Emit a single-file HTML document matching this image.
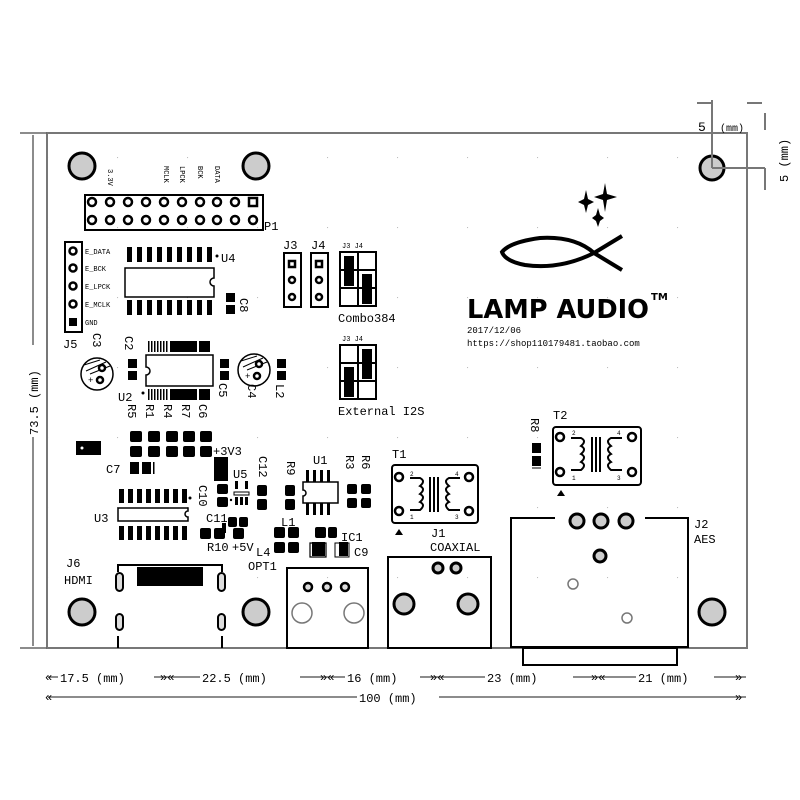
<!DOCTYPE html>
<html><head><meta charset="utf-8"><style>
html,body{margin:0;padding:0;background:#fff}
svg{display:block}
text{font-family:"Liberation Mono","DejaVu Sans Mono",monospace;fill:#000}
text.logo{font-family:"DejaVu Sans","Liberation Sans",sans-serif;font-weight:bold}
</style></head><body>
<svg width="800" height="800" viewBox="0 0 800 800" xmlns="http://www.w3.org/2000/svg">
<defs>
<pattern id="dots" x="47" y="157" width="70" height="70" patternUnits="userSpaceOnUse"><circle cx="0" cy="0" r="1.2" fill="#bbb"/></pattern>
</defs>
<rect x="0" y="0" width="800" height="800" fill="#fff"/>
<!-- board -->
<rect x="47" y="133" width="700" height="515" fill="url(#dots)" stroke="#777" stroke-width="2"/>

<!-- mounting holes -->
<g fill="#ccc" stroke="#000" stroke-width="3">
<circle cx="82" cy="166" r="13"/><circle cx="256" cy="166" r="13"/><circle cx="712" cy="168" r="12"/>
<circle cx="82" cy="612" r="13"/><circle cx="256" cy="612" r="13"/><circle cx="712" cy="612" r="13"/>
</g>

<!-- top-right dimension -->
<g stroke="#777" stroke-width="2" fill="none">
<line x1="712" y1="100" x2="712" y2="168"/><line x1="712" y1="168" x2="765" y2="168"/>
<line x1="697" y1="103" x2="712" y2="103"/><line x1="747" y1="103" x2="762" y2="103"/>
<line x1="765" y1="113" x2="765" y2="130"/><line x1="765" y1="168" x2="765" y2="190"/>
</g>
<text x="698" y="131" font-size="13" fill="#666">5</text><text x="720" y="131" font-size="10" fill="#666">(mm)</text>
<text x="0" y="0" font-size="12" fill="#666" transform="translate(788,182) rotate(-90)">5 (mm)</text>

<!-- left dimension -->
<g stroke="#666" stroke-width="1.5"><line x1="33" y1="135" x2="33" y2="646"/><line x1="20" y1="133" x2="47" y2="133"/><line x1="20" y1="648" x2="47" y2="648"/></g>
<rect x="26" y="345" width="14" height="92" fill="#fff"/>
<text font-size="12" fill="#666" transform="translate(38,435) rotate(-90)">73.5 (mm)</text>

<!-- bottom dimensions -->
<g stroke="#666" stroke-width="1.5">
<line x1="48" y1="677" x2="746" y2="677"/><line x1="48" y1="697" x2="746" y2="697"/>
</g>
<g fill="#fff">
<rect x="58" y="669" width="96" height="14"/><rect x="200" y="669" width="100" height="14"/><rect x="345" y="669" width="75" height="14"/><rect x="485" y="669" width="88" height="14"/><rect x="636" y="669" width="78" height="14"/><rect x="357" y="689" width="82" height="14"/>
</g>
<g font-size="12" fill="#666">
<text x="60" y="682" fill="#666">17.5 (mm)</text><text x="202" y="682" fill="#666">22.5 (mm)</text><text x="347" y="682" fill="#666">16 (mm)</text><text x="487" y="682" fill="#666">23 (mm)</text><text x="638" y="682" fill="#666">21 (mm)</text><text x="359" y="702" fill="#666">100 (mm)</text>
</g>
<g fill="#666" font-size="12"><text x="45" y="681" fill="#666">«</text><text x="160" y="681" fill="#666">»«</text><text x="320" y="681" fill="#666">»«</text><text x="430" y="681" fill="#666">»«</text><text x="591" y="681" fill="#666">»«</text><text x="735" y="681" fill="#666">»</text><text x="45" y="701" fill="#666">«</text><text x="735" y="701" fill="#666">»</text></g>

<!-- P1 -->
<rect x="85" y="195" width="178" height="35" fill="none" stroke="#000" stroke-width="2"/>
<g fill="#fff" stroke="#000" stroke-width="2.5">
<circle cx="92" cy="202" r="4"/><circle cx="110" cy="202" r="4"/><circle cx="128" cy="202" r="4"/><circle cx="146" cy="202" r="4"/><circle cx="164" cy="202" r="4"/><circle cx="182" cy="202" r="4"/><circle cx="200" cy="202" r="4"/><circle cx="217" cy="202" r="4"/><circle cx="235" cy="202" r="4"/><rect x="249" y="198" width="8" height="8"/>
<circle cx="92" cy="220" r="4"/><circle cx="110" cy="220" r="4"/><circle cx="128" cy="220" r="4"/><circle cx="146" cy="220" r="4"/><circle cx="164" cy="220" r="4"/><circle cx="182" cy="220" r="4"/><circle cx="200" cy="220" r="4"/><circle cx="217" cy="220" r="4"/><circle cx="235" cy="220" r="4"/><circle cx="253" cy="220" r="4"/>
</g>
<g font-size="7">
<text transform="translate(108,169) rotate(90)">3.3V</text><text transform="translate(164,166) rotate(90)">MCLK</text><text transform="translate(180,166) rotate(90)">LPCK</text><text transform="translate(198,166) rotate(90)">BCK</text><text transform="translate(215,166) rotate(90)">DATA</text>
</g>
<text x="264" y="230" font-size="12">P1</text>

<!-- J5 -->
<rect x="65" y="242" width="17" height="90" fill="none" stroke="#000" stroke-width="2"/>
<g fill="#fff" stroke="#000" stroke-width="2.5"><circle cx="73" cy="251" r="3.5"/><circle cx="73" cy="268" r="3.5"/><circle cx="73" cy="286" r="3.5"/><circle cx="73" cy="304" r="3.5"/></g>
<rect x="69" y="318" width="8" height="8" fill="#000"/>
<g font-size="7"><text x="85" y="254">E_DATA</text><text x="85" y="271">E_BCK</text><text x="85" y="289">E_LPCK</text><text x="85" y="307">E_MCLK</text><text x="85" y="325">GND</text></g>
<text x="63" y="348" font-size="12">J5</text>

<!-- U4 -->
<g fill="#000">
<rect x="127" y="247" width="5" height="15"/><rect x="137" y="247" width="5" height="15"/><rect x="147" y="247" width="5" height="15"/><rect x="157" y="247" width="5" height="15"/><rect x="167" y="247" width="5" height="15"/><rect x="177" y="247" width="5" height="15"/><rect x="187" y="247" width="5" height="15"/><rect x="197" y="247" width="5" height="15"/><rect x="207" y="247" width="5" height="15"/>
<rect x="127" y="300" width="5" height="15"/><rect x="137" y="300" width="5" height="15"/><rect x="147" y="300" width="5" height="15"/><rect x="157" y="300" width="5" height="15"/><rect x="167" y="300" width="5" height="15"/><rect x="177" y="300" width="5" height="15"/><rect x="187" y="300" width="5" height="15"/><rect x="197" y="300" width="5" height="15"/><rect x="207" y="300" width="5" height="15"/>
<circle cx="217" cy="256" r="1.5"/>
</g>
<path d="M125 268 H214 V278 A4 4 0 0 0 214 286 V297 H125 Z" fill="#fff" stroke="#000" stroke-width="1.5"/>
<text x="221" y="262" font-size="12">U4</text>
<rect x="226" y="293" width="9" height="9" fill="#000"/><rect x="226" y="305" width="9" height="9" fill="#000"/>
<text font-size="12" transform="translate(240,298) rotate(90)">C8</text>

<!-- J3 J4 -->
<text x="283" y="249" font-size="12">J3</text><text x="311" y="249" font-size="12">J4</text>
<rect x="284" y="253" width="17" height="54" fill="none" stroke="#000" stroke-width="2"/>
<rect x="311" y="253" width="17" height="54" fill="none" stroke="#000" stroke-width="2"/>
<g fill="#fff" stroke="#000" stroke-width="2.5"><rect x="289" y="261" width="6" height="6"/><circle cx="292" cy="280" r="3"/><circle cx="292" cy="297" r="3"/><rect x="316" y="261" width="6" height="6"/><circle cx="319" cy="280" r="3"/><circle cx="319" cy="297" r="3"/></g>
<g fill="none" stroke="#000" stroke-width="2">
<rect x="340" y="252" width="36" height="54"/><line x1="358" y1="252" x2="358" y2="306"/><line x1="340" y1="270" x2="376" y2="270"/><line x1="340" y1="288" x2="376" y2="288"/>
<rect x="340" y="345" width="36" height="54"/><line x1="358" y1="345" x2="358" y2="399"/><line x1="340" y1="363" x2="376" y2="363"/><line x1="340" y1="381" x2="376" y2="381"/>
</g>
<g fill="#000"><rect x="344" y="256" width="10" height="30"/><rect x="362" y="274" width="10" height="30"/><rect x="362" y="349" width="10" height="30"/><rect x="344" y="367" width="10" height="30"/></g>
<g font-size="7"><text x="342" y="248">J3 J4</text><text x="342" y="341">J3 J4</text></g>
<text x="338" y="322" font-size="12">Combo384</text>
<text x="338" y="415" font-size="12">External I2S</text>

<!-- U2 area -->
<g fill="#fff" stroke="#000" stroke-width="1.5"><circle cx="97" cy="374" r="16"/><circle cx="254" cy="370" r="16"/></g>
<g fill="none" stroke="#000" stroke-width="1"><path d="M84 365 L100 360 M86 371 L106 362 M90 374 L110 366"/><path d="M241 361 L257 356 M243 367 L263 358 M247 370 L267 362"/></g>
<g fill="#fff" stroke="#000" stroke-width="2.5"><circle cx="102" cy="368" r="3"/><circle cx="100" cy="380" r="3"/><circle cx="259" cy="364" r="3"/><circle cx="257" cy="376" r="3"/></g>
<g font-size="9"><text x="88" y="383">+</text><text x="245" y="379">+</text></g>
<g fill="#000">
<rect x="128" y="359" width="9" height="9"/><rect x="128" y="371" width="9" height="9"/>
<rect x="220" y="359" width="9" height="9"/><rect x="220" y="371" width="9" height="9"/>
<rect x="277" y="359" width="9" height="9"/><rect x="277" y="371" width="9" height="9"/>
<rect x="148" y="341" width="1.5" height="11"/><rect x="151" y="341" width="1.5" height="11"/><rect x="154" y="341" width="1.5" height="11"/><rect x="157" y="341" width="1.5" height="11"/><rect x="160" y="341" width="1.5" height="11"/><rect x="163" y="341" width="1.5" height="11"/><rect x="166" y="341" width="1.5" height="11"/>
<rect x="170" y="341" width="27" height="11"/><rect x="199" y="341" width="11" height="11"/>
<rect x="148" y="389" width="1.5" height="11"/><rect x="151" y="389" width="1.5" height="11"/><rect x="154" y="389" width="1.5" height="11"/><rect x="157" y="389" width="1.5" height="11"/><rect x="160" y="389" width="1.5" height="11"/><rect x="163" y="389" width="1.5" height="11"/><rect x="166" y="389" width="1.5" height="11"/>
<rect x="170" y="389" width="27" height="11"/><rect x="199" y="389" width="11" height="11"/>
<circle cx="143" cy="393" r="1.5"/>
</g>
<path d="M146 355 H213 V386 H146 V375 A4 4 0 0 0 146 367 Z" fill="#fff" stroke="#000" stroke-width="1.5"/>
<text x="118" y="401" font-size="12">U2</text>
<g font-size="12">
<text transform="translate(93,333) rotate(90)">C3</text><text transform="translate(125,336) rotate(90)">C2</text>
<text transform="translate(219,383) rotate(90)">C5</text><text transform="translate(248,384) rotate(90)">C4</text><text transform="translate(276,384) rotate(90)">L2</text>
<text transform="translate(128,404) rotate(90)">R5</text><text transform="translate(146,404) rotate(90)">R1</text><text transform="translate(164,404) rotate(90)">R4</text><text transform="translate(182,404) rotate(90)">R7</text><text transform="translate(199,404) rotate(90)">C6</text>
</g>
<g fill="#000">
<rect x="130" y="431" width="12" height="11" rx="2"/><rect x="148" y="431" width="12" height="11" rx="2"/><rect x="166" y="431" width="12" height="11" rx="2"/><rect x="183" y="431" width="12" height="11" rx="2"/><rect x="200" y="431" width="12" height="11" rx="2"/>
<rect x="130" y="446" width="12" height="11" rx="2"/><rect x="148" y="446" width="12" height="11" rx="2"/><rect x="166" y="446" width="12" height="11" rx="2"/><rect x="183" y="446" width="12" height="11" rx="2"/><rect x="200" y="446" width="12" height="11" rx="2"/>
<rect x="76" y="441" width="25" height="14"/>
<rect x="130" y="462" width="9" height="12"/><rect x="142" y="462" width="9" height="12"/><rect x="153" y="462" width="1.5" height="12"/>
</g>
<circle cx="82" cy="448" r="1.5" fill="#fff"/>
<text x="213" y="455" font-size="12">+3V3</text>
<text x="106" y="473" font-size="12">C7</text>

<!-- U3 -->
<g fill="#000">
<rect x="119" y="489" width="5" height="14"/><rect x="128" y="489" width="5" height="14"/><rect x="137" y="489" width="5" height="14"/><rect x="146" y="489" width="5" height="14"/><rect x="155" y="489" width="5" height="14"/><rect x="164" y="489" width="5" height="14"/><rect x="173" y="489" width="5" height="14"/><rect x="182" y="489" width="5" height="14"/>
<rect x="119" y="526" width="5" height="14"/><rect x="128" y="526" width="5" height="14"/><rect x="137" y="526" width="5" height="14"/><rect x="146" y="526" width="5" height="14"/><rect x="155" y="526" width="5" height="14"/><rect x="164" y="526" width="5" height="14"/><rect x="173" y="526" width="5" height="14"/><rect x="182" y="526" width="5" height="14"/>
<circle cx="190" cy="498" r="1.5"/>
</g>
<path d="M118 508 H188 V511 A3 3 0 0 0 188 517 V521 H118 Z" fill="#fff" stroke="#000" stroke-width="1.5"/>
<text x="94" y="522" font-size="12">U3</text>

<!-- U5 region -->
<g fill="#000">
<rect x="214" y="457" width="14" height="24"/>
<rect x="217" y="484" width="11" height="10" rx="2"/><rect x="217" y="497" width="11" height="10" rx="2"/>
<rect x="235" y="481" width="3" height="8"/><rect x="245" y="481" width="3" height="8"/>
<rect x="235" y="497" width="3" height="8"/><rect x="240" y="497" width="3" height="8"/><rect x="245" y="497" width="3" height="8"/>
<rect x="222" y="523" width="4" height="10"/><rect x="228" y="517" width="9" height="10" rx="2"/><rect x="239" y="517" width="9" height="10" rx="2"/>
<rect x="200" y="528" width="11" height="11" rx="2"/><rect x="214" y="528" width="11" height="11" rx="2"/><rect x="233" y="528" width="11" height="11" rx="2"/>
<rect x="257" y="485" width="10" height="11" rx="2"/><rect x="257" y="499" width="10" height="11" rx="2"/>
<rect x="285" y="485" width="10" height="11" rx="2"/><rect x="285" y="499" width="10" height="11" rx="2"/>
<rect x="274" y="527" width="11" height="11" rx="2"/><rect x="288" y="527" width="11" height="11" rx="2"/>
<rect x="274" y="542" width="11" height="11" rx="2"/><rect x="288" y="542" width="11" height="11" rx="2"/>
<rect x="315" y="527" width="11" height="11" rx="2"/><rect x="328" y="527" width="9" height="11" rx="2"/>
<rect x="347" y="484" width="10" height="10" rx="2"/><rect x="361" y="484" width="10" height="10" rx="2"/>
<rect x="347" y="498" width="10" height="10" rx="2"/><rect x="361" y="498" width="10" height="10" rx="2"/>
<circle cx="231" cy="500" r="1.2"/>
</g>
<rect x="234" y="492" width="15" height="3" fill="#fff" stroke="#000"/>
<path d="M312 550 V542 H325 V556 H312 Z" fill="#000"/><path d="M310 543 H326 V557 H310 Z" fill="none" stroke="#000" stroke-width="1.2"/>
<rect x="339" y="542" width="9" height="14" fill="#000"/><path d="M335 543 H349 V557 H335 Z" fill="none" stroke="#000"/>
<g fill="#000">
<rect x="306" y="470" width="3" height="12"/><rect x="313" y="470" width="3" height="12"/><rect x="320" y="470" width="3" height="12"/><rect x="327" y="470" width="3" height="12"/>
<rect x="306" y="503" width="3" height="12"/><rect x="313" y="503" width="3" height="12"/><rect x="320" y="503" width="3" height="12"/><rect x="327" y="503" width="3" height="12"/>
</g>
<path d="M303 482 H338 V503 H303 V496 A3 3 0 0 0 303 490 Z" fill="#fff" stroke="#000" stroke-width="1.5"/>
<g font-size="12">
<text x="233" y="478">U5</text><text x="313" y="464">U1</text><text x="207" y="551">R10</text><text x="232" y="551">+5V</text>
<text x="206" y="522">C11</text><text x="281" y="526">L1</text><text x="256" y="556">L4</text><text x="341" y="541">IC1</text><text x="354" y="556">C9</text><text x="248" y="570">OPT1</text>
<text transform="translate(259,456) rotate(90)">C12</text><text transform="translate(199,485) rotate(90)">C10</text>
<text transform="translate(287,461) rotate(90)">R9</text><text transform="translate(346,455) rotate(90)">R3</text><text transform="translate(362,455) rotate(90)">R6</text>
<text x="66" y="567">J6</text><text x="64" y="584">HDMI</text>
</g>

<!-- HDMI -->
<path d="M118 572 V565 H222 V572 M118 636 V648 M222 636 V648" fill="none" stroke="#000" stroke-width="2"/>
<rect x="137" y="567" width="66" height="19" fill="#000"/>
<g fill="#ddd" stroke="#000" stroke-width="2"><rect x="116" y="573" width="7" height="18" rx="3.5"/><rect x="218" y="573" width="7" height="18" rx="3.5"/><rect x="116" y="614" width="7" height="16" rx="3.5"/><rect x="218" y="614" width="7" height="16" rx="3.5"/></g>

<!-- OPT1 -->
<rect x="287" y="568" width="81" height="80" fill="none" stroke="#000" stroke-width="2"/>
<g fill="#ddd" stroke="#000" stroke-width="2.5"><circle cx="308" cy="587" r="4"/><circle cx="327" cy="587" r="4"/><circle cx="345" cy="587" r="4"/></g>
<g fill="#fff" stroke="#777" stroke-width="1.5"><circle cx="302" cy="613" r="10"/><circle cx="354" cy="613" r="10"/></g>

<!-- T1 -->
<g>
<rect x="392" y="465" width="86" height="58" rx="3" fill="#fff" stroke="#000" stroke-width="2"/>
<g fill="#fff" stroke="#000" stroke-width="2.5"><circle cx="399" cy="477" r="4"/><circle cx="469" cy="477" r="4"/><circle cx="399" cy="511" r="4"/><circle cx="469" cy="511" r="4"/></g>
<path d="M410 478 H420 Q426 481 420 486 Q426 489 420 494 Q426 497 420 502 Q426 505 420 510 H410 M460 478 H449 Q443 481 449 486 Q443 489 449 494 Q443 497 449 502 Q443 505 449 510 H460 M430 477 V512 M434 477 V512 M438 477 V512" fill="none" stroke="#000" stroke-width="2"/>
<g font-size="6"><text x="410" y="476">2</text><text x="455" y="476">4</text><text x="410" y="519">1</text><text x="455" y="519">3</text></g>
<path d="M395 535 L399 529 L403 535 Z" fill="#000"/>
</g>
<text x="392" y="458" font-size="12">T1</text>
<!-- T2 -->
<g>
<rect x="553" y="427" width="88" height="58" rx="3" fill="#fff" stroke="#000" stroke-width="2"/>
<g fill="#fff" stroke="#000" stroke-width="2.5"><circle cx="560" cy="437" r="4"/><circle cx="632" cy="437" r="4"/><circle cx="560" cy="472" r="4"/><circle cx="632" cy="472" r="4"/></g>
<path d="M571 438 H581 Q587 441 581 446 Q587 449 581 454 Q587 457 581 462 Q587 465 581 470 H571 M622 438 H611 Q605 441 611 446 Q605 449 611 454 Q605 457 611 462 Q605 465 611 470 H622 M592 437 V472 M596 437 V472 M600 437 V472" fill="none" stroke="#000" stroke-width="2"/>
<g font-size="6"><text x="572" y="435">2</text><text x="617" y="435">4</text><text x="572" y="480">1</text><text x="617" y="480">3</text></g>
<path d="M557 496 L561 490 L565 496 Z" fill="#000"/>
</g>
<text x="553" y="419" font-size="12">T2</text>
<rect x="532" y="443" width="9" height="10" fill="#000"/><rect x="532" y="456" width="9" height="10" fill="#000"/><line x1="532" y1="468" x2="541" y2="468" stroke="#000"/>
<text font-size="12" transform="translate(531,418) rotate(90)">R8</text>

<!-- J1 -->
<rect x="388" y="557" width="103" height="91" fill="none" stroke="#000" stroke-width="2"/>
<g fill="#ccc" stroke="#000" stroke-width="3"><circle cx="438" cy="568" r="5"/><circle cx="456" cy="568" r="5"/><circle cx="404" cy="604" r="10"/><circle cx="468" cy="604" r="10"/></g>
<text x="431" y="537" font-size="12">J1</text><text x="430" y="551" font-size="12">COAXIAL</text>

<!-- J2 -->
<path d="M555 518 H511 V647 H688 V518 H645" fill="none" stroke="#000" stroke-width="2"/>
<rect x="523" y="648" width="154" height="17" fill="none" stroke="#000" stroke-width="2"/>
<g fill="#ccc" stroke="#000" stroke-width="3"><circle cx="577" cy="521" r="7"/><circle cx="601" cy="521" r="7"/><circle cx="626" cy="521" r="7"/><circle cx="600" cy="556" r="6"/></g>
<g fill="#fff" stroke="#777" stroke-width="1.5"><circle cx="573" cy="584" r="5"/><circle cx="627" cy="618" r="5"/></g>
<text x="694" y="528" font-size="12">J2</text><text x="694" y="543" font-size="12">AES</text>

<!-- Logo -->
<g fill="#000">
<path d="M605 183 L607 194 L617 197 L607 200 L605 212 L603 200 L594 197 L603 194 Z"/>
<path d="M586 190 L588 199 L594 202 L588 205 L586 213 L584 205 L578 202 L584 199 Z"/>
<path d="M598 208 L600 215 L604 218 L600 221 L598 227 L596 221 L592 218 L596 215 Z"/>
</g>
<path d="M622 236 L594 253 Q560 270 525 265 Q505 261 502 252 Q510 242 540 238 Q575 236 594 253 L622 270" fill="none" stroke="#000" stroke-width="4"/>
<text class="logo" x="467" y="318" font-size="26" textLength="182" lengthAdjust="spacingAndGlyphs">LAMP AUDIO</text>
<text class="logo" x="651" y="300" font-size="10">TM</text>
<text x="467" y="333" font-size="9">2017/12/06</text>
<text x="467" y="346" font-size="9">https://shop110179481.taobao.com</text>
</svg>
</body></html>
